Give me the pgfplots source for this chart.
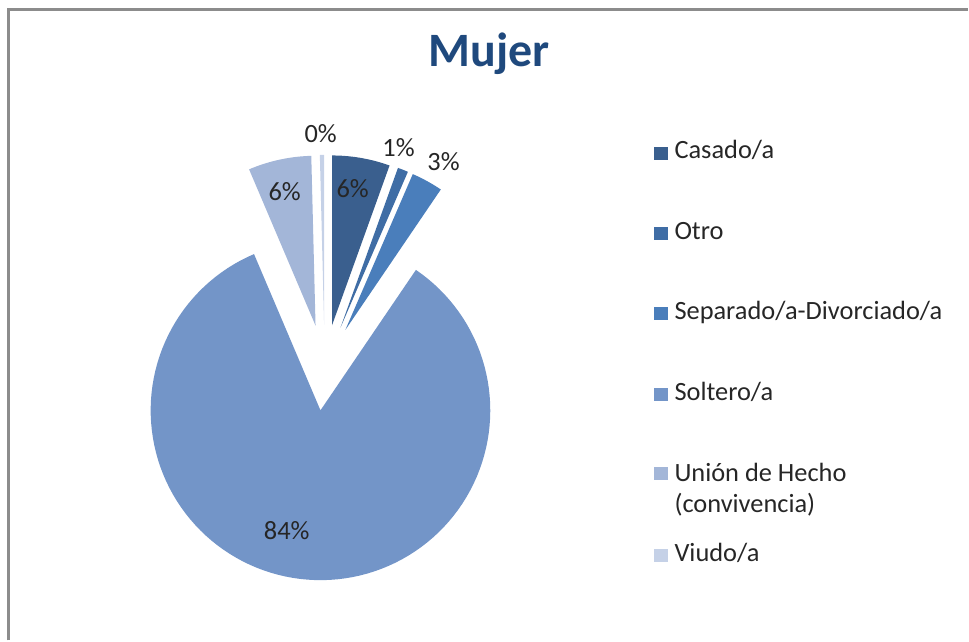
\documentclass[border=0pt]{standalone}
\usepackage{fontspec}
\setmainfont{Carlito}
\usepackage{pgfplots}
\pgfplotsset{compat=1.18}
\definecolor{cCasado}{HTML}{3A5F8E}
\definecolor{cOtro}{HTML}{3F6DA5}
\definecolor{cSep}{HTML}{4A7EBB}
\definecolor{cSol}{HTML}{7395C8}
\definecolor{cUni}{HTML}{A3B6D8}
\definecolor{cViu}{HTML}{C5D1E7}
\definecolor{titleblue}{HTML}{1F497D}
\definecolor{framegray}{HTML}{8C8C8C}
% values in percent
\def\vCasado{5.5}
\def\vOtro{1.0}
\def\vSep{3.0}
\def\vSol{84.1}
\def\vUni{6.0}
\def\vViu{0.4}
% slice: colour, start angle, end angle (clockwise, start > end)
\newcommand{\slice}[3]{%
  \pgfmathsetmacro{\mA}{(#2+#3)/2}%
  \pgfmathsetmacro{\ox}{325+43*cos(\mA)}%
  \pgfmathsetmacro{\oy}{273+43*sin(\mA)}%
  \edef\doslice{\noexpand\addplot[fill=#1, draw=none, domain=#3:#2, samples=120]
    ({\ox+170*cos(x)},{\oy+170*sin(x)}) -- (axis cs:\ox,\oy) -- cycle;}%
  \doslice
}
\begin{document}
\begin{tikzpicture}
\pgfmathsetmacro{\aA}{90}
\pgfmathsetmacro{\aB}{\aA-3.6*\vCasado}
\pgfmathsetmacro{\aC}{\aB-3.6*\vOtro}
\pgfmathsetmacro{\aD}{\aC-3.6*\vSep}
\pgfmathsetmacro{\aE}{\aD-3.6*\vSol}
\pgfmathsetmacro{\aF}{\aE-3.6*\vUni}
\pgfmathsetmacro{\aG}{\aF-3.6*\vViu}
\begin{axis}[hide axis, scale only axis, width=726.75pt, height=480.75pt,
  xmin=0, xmax=969, ymin=0, ymax=641, clip=false]
\path (axis cs:0,0) rectangle (axis cs:969,641);
\draw[framegray, line width=1.6pt] (axis cs:8.5,0) -- (axis cs:8.5,631.5) -- (axis cs:969,631.5);
\slice{cCasado}{\aA}{\aB}
\slice{cOtro}{\aB}{\aC}
\slice{cSep}{\aC}{\aD}
\slice{cSol}{\aD}{\aE}
\slice{cUni}{\aE}{\aF}
\slice{cViu}{\aF}{\aG}
% title
\node[anchor=base, font=\fontsize{36}{40}\selectfont\bfseries, text=titleblue] at (axis cs:490,574) {Mujer};
% data labels
\begin{scope}[every node/.style={anchor=base, font=\fontsize{19.8}{22}\selectfont, text=black!85}]
\node at (axis cs:321,498) {0\%};
\node at (axis cs:399,484) {1\%};
\node at (axis cs:444,470) {3\%};
\node at (axis cs:353,443) {6\%};
\node at (axis cs:285,440) {6\%};
\node at (axis cs:287,101) {84\%};
\end{scope}
% legend
\begin{scope}[every node/.style={anchor=base west, font=\fontsize{19.8}{22}\selectfont, text=black!85, inner sep=0pt}]
\fill[cCasado] (axis cs:655,481) rectangle (axis cs:669,494);
\node at (axis cs:675,482) {Casado/a};
\fill[cOtro] (axis cs:655,401) rectangle (axis cs:669,414);
\node at (axis cs:675,401) {Otro};
\fill[cSep] (axis cs:655,321) rectangle (axis cs:669,334);
\node at (axis cs:675,321) {Separado/a-Divorciado/a};
\fill[cSol] (axis cs:655,240) rectangle (axis cs:669,253);
\node at (axis cs:675,240) {Soltero/a};
\fill[cUni] (axis cs:655,160) rectangle (axis cs:669,173);
\node at (axis cs:675,159) {Unión de Hecho};
\node at (axis cs:675,128) {(convivencia)};
\fill[cViu] (axis cs:655,78) rectangle (axis cs:669,91);
\node at (axis cs:675,79) {Viudo/a};
\end{scope}
\end{axis}
\end{tikzpicture}
\end{document}
